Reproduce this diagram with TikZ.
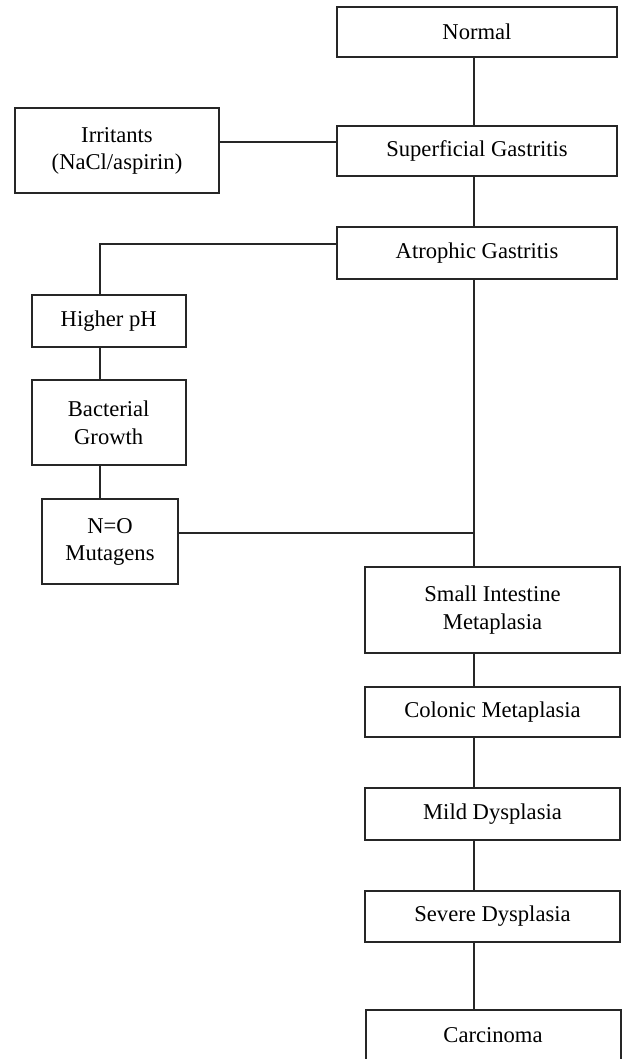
\documentclass[tikz,border=0pt]{standalone}
\usepackage{fontspec}
\setmainfont{Liberation Serif}
\usetikzlibrary{positioning}

\tikzset{
    stage/.style={draw=black!85, line width=1pt, inner sep=0pt, align=center,
        font=\fontsize{11.3}{13.8}\selectfont},
    upper/.style={stage, minimum width=140pt},
    lower/.style={stage, minimum width=127.5pt},
    link/.style={draw=black!85, line width=1pt},
}

\begin{document}
    \begin{tikzpicture}[x=0.5pt, y=-0.5pt]
        \path[fill=white, use as bounding box] (0,0) rectangle (623,1059);
        \coordinate (trunk) at (474,0);
        \coordinate (lside) at (100,0);

        % main column
        \node[upper, minimum height=25.3pt] (normal) at (477,32) {Normal};
        \node[upper, minimum height=25pt] (sg) at (477,151) {Superficial Gastritis};
        \node[upper, minimum height=26pt] (ag) at (477,253) {Atrophic Gastritis};
        \node[lower, minimum height=42.7pt] (sim) at (492.5,610) {Small Intestine\\Metaplasia};
        \node[lower, minimum height=25.3pt] (col) at (492.5,712) {Colonic Metaplasia};
        \node[lower, minimum height=25.8pt] (mild) at (492.5,814) {Mild Dysplasia};
        \node[lower, minimum height=25.5pt] (sev) at (492.5,916) {Severe Dysplasia};
        \node[lower, minimum height=25.5pt] (car) at (493,1035.5) {Carcinoma};

        % side branch
        \node[stage, minimum width=102pt, minimum height=42.5pt] (irr) at (117,150.8) {Irritants\\(NaCl/aspirin)};
        \node[stage, minimum width=77pt, minimum height=25.8pt] (hph) at (108.7,321) {Higher pH};
        \node[stage, minimum width=77pt, minimum height=42.5pt] (bac) at (108.7,422.5) {Bacterial\\Growth};
        \node[stage, minimum width=68.3pt, minimum height=42.5pt] (no) at (110,541.8) {N=O\\Mutagens};

        \foreach \a/\b in {normal/sg, sg/ag, ag/sim, sim/col, col/mild, mild/sev, sev/car}
            \draw[link] (\a.south -| trunk) -- (\b.north -| trunk);

        \draw[link] ([yshift=4.3pt]irr.east) -- ([yshift=4.3pt]irr.east -| sg.west);
        \draw[link] ([yshift=4.7pt]ag.west) -| (hph.north -| lside);
        \draw[link] (hph.south -| lside) -- (bac.north -| lside);
        \draw[link] (bac.south -| lside) -- (no.north -| lside);
        \draw[link] ([yshift=4.3pt]no.east) -- ([yshift=4.3pt]no.east -| trunk);
    \end{tikzpicture}
\end{document}
